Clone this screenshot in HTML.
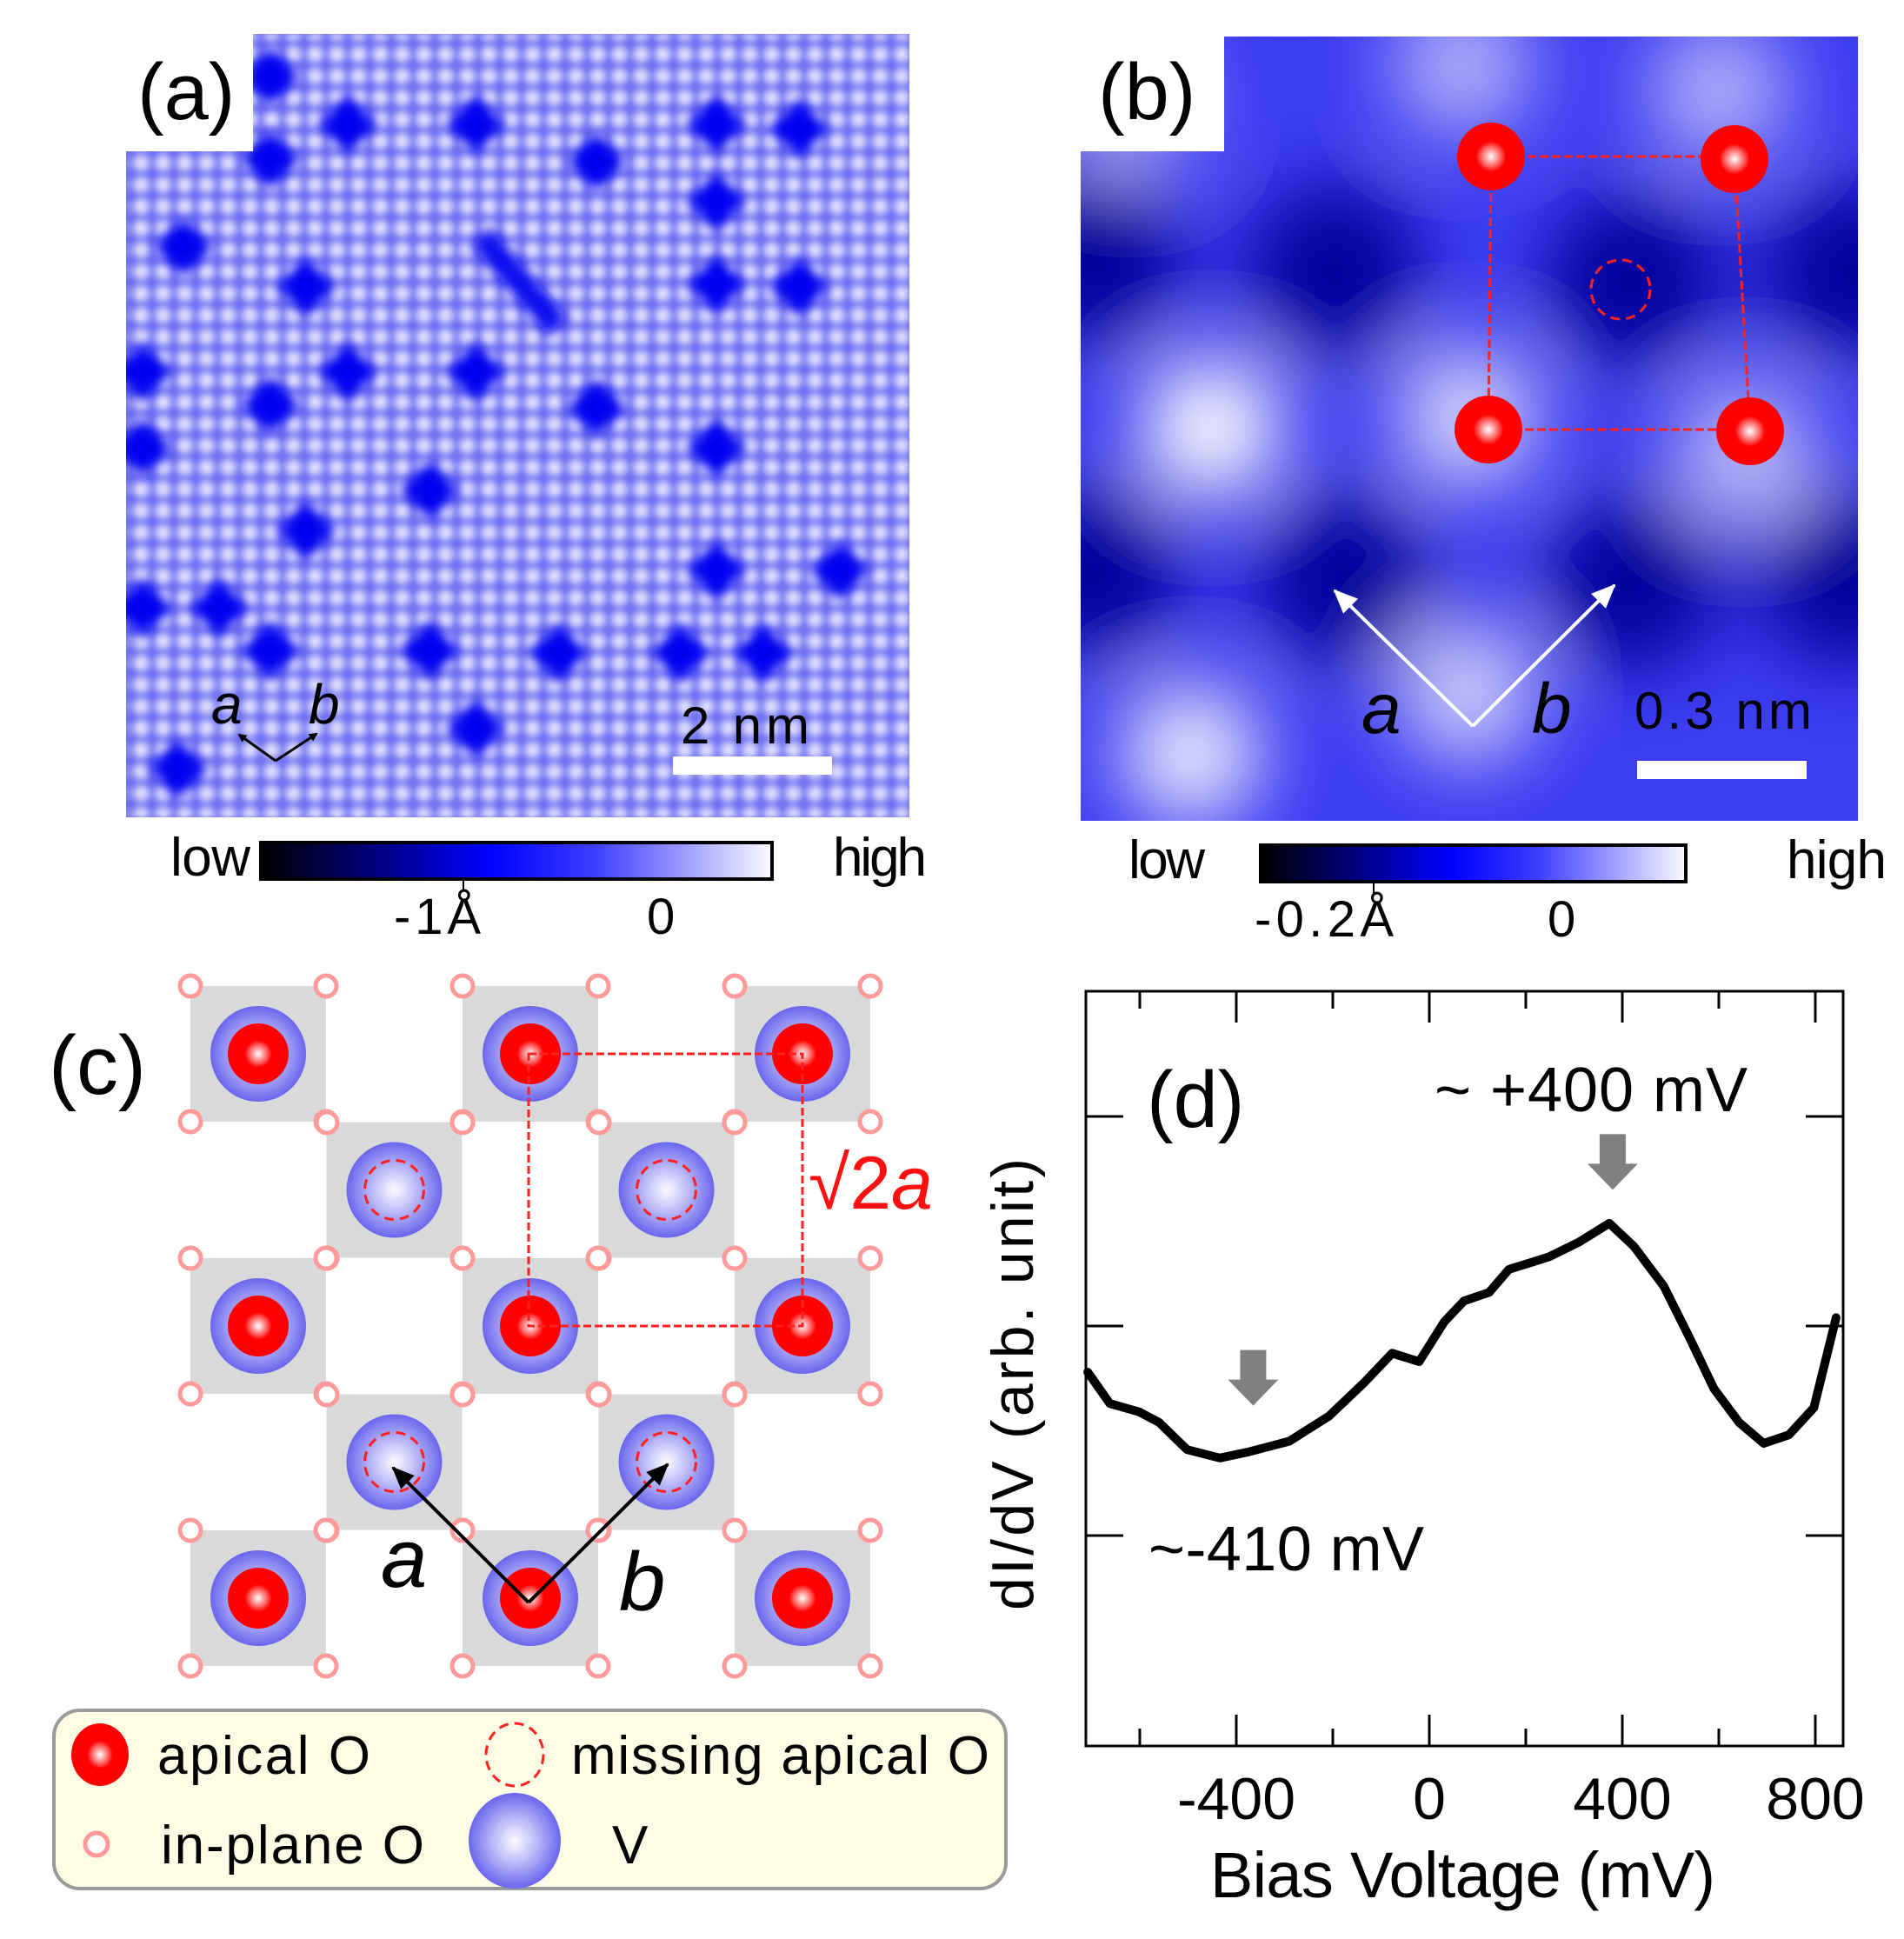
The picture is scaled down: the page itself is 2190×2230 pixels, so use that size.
<!DOCTYPE html>
<html><head><meta charset="utf-8"><style>
html,body{margin:0;padding:0;background:#fff}
svg{display:block}
text{font-family:"Liberation Sans",sans-serif}
</style></head><body>
<svg id="fig" width="2190" height="2230" viewBox="0 0 2190 2230" xmlns="http://www.w3.org/2000/svg">
<defs>
  <radialGradient id="dotg"><stop offset="0" stop-color="#f4f2ff"/><stop offset="0.5" stop-color="#d0cffb" stop-opacity="0.85"/><stop offset="1" stop-color="#c8c8fb" stop-opacity="0"/></radialGradient>
  <pattern id="lat" width="25" height="25" patternUnits="userSpaceOnUse"><circle cx="12.5" cy="12.5" r="14" fill="url(#dotg)"/></pattern>
  <filter id="blur8" filterUnits="userSpaceOnUse" x="100" y="0" width="1000" height="1000"><feGaussianBlur stdDeviation="7"/></filter>
  <filter id="blurLat" filterUnits="userSpaceOnUse" x="100" y="0" width="1000" height="1000"><feGaussianBlur stdDeviation="3"/></filter>
  <filter id="blur30" filterUnits="userSpaceOnUse" x="1000" y="-300" width="1400" height="1500"><feGaussianBlur stdDeviation="45"/></filter>
  <linearGradient id="cbar" x1="0" x2="1"><stop offset="0" stop-color="#000"/><stop offset="0.45" stop-color="#0000ff"/><stop offset="0.65" stop-color="#3c3cff"/><stop offset="1" stop-color="#fafaff"/></linearGradient>
  <radialGradient id="redball" cx="0.5" cy="0.5" r="0.5"><stop offset="0" stop-color="#fff"/><stop offset="0.3" stop-color="#ff5a5a"/><stop offset="0.45" stop-color="#ff0000"/><stop offset="1" stop-color="#ff0000"/></radialGradient>
  <radialGradient id="vball" cx="0.5" cy="0.5" r="0.5"><stop offset="0" stop-color="#fdfbff"/><stop offset="0.5" stop-color="#b7b5f7"/><stop offset="1" stop-color="#6a66ee"/></radialGradient>
  <clipPath id="clipA"><path d="M291,39H1046V940H145V174H291Z"/></clipPath>
  <clipPath id="clipB"><path d="M1408,42H2137V944H1243V174H1408Z"/></clipPath>
  <marker id="ahB" markerWidth="10" markerHeight="10" refX="8" refY="5" orient="auto" markerUnits="userSpaceOnUse"><path d="M0,0L10,5L0,10Z" fill="#000"/></marker>
  <marker id="ahBig" markerWidth="26" markerHeight="22" refX="24" refY="11" orient="auto" markerUnits="userSpaceOnUse"><path d="M0,0L26,11L0,22Z" fill="#000"/></marker>
  <marker id="ahW" markerWidth="28" markerHeight="24" refX="26" refY="12" orient="auto" markerUnits="userSpaceOnUse"><path d="M0,0L28,12L0,24Z" fill="#fff"/></marker>
</defs>

<!-- Panel A -->
<g clip-path="url(#clipA)">
  <rect x="145" y="39" width="901" height="901" fill="#6c6ef2"/>
  <rect x="145" y="39" width="901" height="901" fill="url(#lat)" filter="url(#blurLat)"/>
  <g id="darkA" filter="url(#blur8)"></g>
</g>
<text x="158" y="137" font-size="92">(a)</text>
<text x="243" y="832" font-size="64" font-style="italic">a</text>
<text x="355" y="832" font-size="64" font-style="italic">b</text>
<line x1="317" y1="875" x2="275" y2="845" stroke="#000" stroke-width="3" marker-end="url(#ahB)"/>
<line x1="317" y1="875" x2="364" y2="844" stroke="#000" stroke-width="3" marker-end="url(#ahB)"/>
<text x="783" y="855" font-size="60" textLength="148">2 nm</text>
<rect x="774" y="870" width="183" height="21" fill="#fff"/>

<!-- colorbar A -->
<g>
  <rect x="300" y="969" width="588" height="42" fill="url(#cbar)" stroke="#000" stroke-width="4"/>
  <line x1="533" y1="1011" x2="533" y2="1024" stroke="#000" stroke-width="2"/>
  <text x="196" y="1007" font-size="62" textLength="92">low</text>
  <text x="958" y="1007" font-size="62" textLength="108">high</text>
  <text x="453" y="1074" font-size="58" textLength="100">-1Å</text>
  <text x="744" y="1074" font-size="58">0</text>
</g>

<!-- Panel B -->
<g clip-path="url(#clipB)">
  <rect x="1243" y="42" width="894" height="902" fill="#3d3df2"/>
  <g id="blobsB" filter="url(#blur30)"></g>
</g>
<text x="1263" y="137" font-size="92">(b)</text>
<g>
  <path d="M1715,180H1995M1995,183L2013,496M1712,494H2013M1715,180L1712,494" stroke="#ff2020" stroke-width="3" stroke-dasharray="10,4" fill="none"/>
  <circle cx="1864" cy="333" r="34" fill="none" stroke="#ff2020" stroke-width="3" stroke-dasharray="11,7"/>
  <circle cx="1715" cy="180" r="39" fill="url(#redball)"/>
  <circle cx="1995" cy="183" r="39" fill="url(#redball)"/>
  <circle cx="1712" cy="494" r="39" fill="url(#redball)"/>
  <circle cx="2013" cy="496" r="39" fill="url(#redball)"/>
</g>
<line x1="1694" y1="835" x2="1535" y2="679" stroke="#fff" stroke-width="4" marker-end="url(#ahW)"/>
<line x1="1694" y1="835" x2="1857" y2="673" stroke="#fff" stroke-width="4" marker-end="url(#ahW)"/>
<text x="1566" y="843" font-size="82" font-style="italic">a</text>
<text x="1762" y="843" font-size="82" font-style="italic">b</text>
<text x="1880" y="838" font-size="60" textLength="204">0.3 nm</text>
<rect x="1883" y="875" width="195" height="21" fill="#fff"/>

<!-- colorbar B -->
<g>
  <rect x="1450" y="972" width="489" height="42" fill="url(#cbar)" stroke="#000" stroke-width="4"/>
  <line x1="1580" y1="1014" x2="1580" y2="1027" stroke="#000" stroke-width="2"/>
  <text x="1298" y="1010" font-size="62" textLength="88">low</text>
  <text x="2055" y="1010" font-size="62" textLength="115">high</text>
  <text x="1443" y="1077" font-size="58" textLength="160">-0.2Å</text>
  <text x="1780" y="1077" font-size="58">0</text>
</g>

<!-- Panel C -->
<g id="latticeC"></g>
<text x="56" y="1258" font-size="96">(c)</text>
<path d="M608,1212H923V1525H608Z" fill="none" stroke="#ff2020" stroke-width="3" stroke-dasharray="9,4"/>
<text x="930" y="1390" font-size="86" fill="#ff1010">√2<tspan font-style="italic">a</tspan></text>
<line x1="608" y1="1843" x2="452" y2="1688" stroke="#000" stroke-width="4" marker-end="url(#ahBig)"/>
<line x1="608" y1="1843" x2="768" y2="1684" stroke="#000" stroke-width="4" marker-end="url(#ahBig)"/>
<text x="438" y="1825" font-size="96" font-style="italic">a</text>
<text x="712" y="1852" font-size="96" font-style="italic">b</text>

<!-- Legend -->
<g>
  <rect x="62" y="1967" width="1095" height="205" rx="30" fill="#fdfde5" stroke="#9a9a9a" stroke-width="4"/>
  <g>
    <ellipse cx="115" cy="2018" rx="33" ry="36" fill="url(#redball)"/>
    <text x="181" y="2040" font-size="62" textLength="245">apical O</text>
  </g>
  <g>
    <ellipse cx="592" cy="2018" rx="33" ry="36" fill="none" stroke="#ff2020" stroke-width="3" stroke-dasharray="11,7"/>
    <text x="657" y="2040" font-size="62" textLength="481">missing apical O</text>
  </g>
  <g>
    <circle cx="111" cy="2121" r="13" fill="#fff" stroke="#f99" stroke-width="5"/>
    <text x="185" y="2143" font-size="62" textLength="303">in-plane O</text>
  </g>
  <g>
    <ellipse cx="592" cy="2117" rx="53" ry="55" fill="url(#vball)"/>
    <text x="704" y="2143" font-size="62">V</text>
  </g>
</g>

<!-- Panel D -->
<g id="plotD"></g>
</svg>
<script>
const NS='http://www.w3.org/2000/svg';
function mk(parent,tag,attrs){const e=document.createElementNS(NS,tag);for(const k in attrs)e.setAttribute(k,attrs[k]);parent.appendChild(e);return e;}

// ---------- Panel A dark defects ----------
const defectAX=[311,400,547,311,686,824,919,824,211,352,824,919,164,400,547,311,686,164,824,494,352,824,966,252,164,311,494,642,783,878,547,205];
const defectAY=[88,143,143,183,186,143,148,232,284,330,327,330,428,428,428,466,469,515,515,564,610,656,656,699,699,748,748,751,751,751,838,884];
const gA=document.getElementById('darkA');
for(let i=0;i<defectAX.length;i++){
  const r=mk(gA,'rect',{x:defectAX[i]-24,y:defectAY[i]-24,width:48,height:48,fill:'#0000f0',transform:`rotate(45 ${defectAX[i]} ${defectAY[i]})`});
  
  
}
const ln=mk(gA,'line',{x1:553,y1:272,x2:642,y2:376,stroke:'#0a0af0','stroke-width':30});



// ---------- Panel B blobs ----------
const darkBX=[1535,1877,2131,1258,1547,1877,2125,1258];
const darkBY=[313,324,313,301,665,670,665,659];
const lightBX=[1393,1370,1688,1688,2007,1682,1977,1300];
const lightBY=[492,867,797,480,520,76,105,120];
const lightBA=[1,0.9,0.75,0.8,0.65,0.6,0.6,0.5];
const gB=document.getElementById('blobsB');
for(let i=0;i<darkBX.length;i++){
  const c=mk(gB,'circle',{cx:darkBX[i],cy:darkBY[i],r:100,fill:'#00009a'});
  
  
}
for(let i=0;i<lightBX.length;i++){
  const c=mk(gB,'circle',{cx:lightBX[i],cy:lightBY[i],r:80,fill:'#ffffff','fill-opacity':lightBA[i]});
  
  
}

// ---------- Panel C lattice ----------
const gC=document.getElementById('latticeC');
const cx0=297, cy0=1212, st=156.5, half=78;
const sites=[];
for(let j=0;j<5;j++){
  if(j%2===0){for(let i=0;i<3;i++)sites.push([cx0+2*i*st,cy0+j*st,'full']);}
  else{for(let i=0;i<2;i++)sites.push([cx0+(2*i+1)*st,cy0+j*st,'missing']);}
}
sites.forEach(s=>{
  const sq=mk(gC,'rect',{x:s[0]-half,y:s[1]-half,width:2*half,height:2*half,fill:'#d9d9d9'});
  
  
});
const corners=new Set();
sites.forEach(s=>{[[-1,-1],[1,-1],[-1,1],[1,1]].forEach(d=>corners.add((s[0]+d[0]*half).toFixed(0)+','+(s[1]+d[1]*half).toFixed(0)));});
corners.forEach(k=>{
  const p=k.split(',');
  const c=mk(gC,'circle',{cx:p[0],cy:p[1],r:12,fill:'#fff',stroke:'#ff9a9a','stroke-width':5});
  
  
});
sites.forEach(s=>{
  const v=mk(gC,'circle',{cx:s[0],cy:s[1],r:55,fill:'url(#vball)'});
  
  
  if(s[2]==='full'){
    const o=mk(gC,'circle',{cx:s[0],cy:s[1],r:35,fill:'url(#redball)'});
    
    
  }else{
    const o=mk(gC,'circle',{cx:s[0],cy:s[1],r:34,fill:'none',stroke:'#ff2020','stroke-width':3,'stroke-dasharray':'11,7'});
    
    
  }
});

// ---------- Panel D chart ----------
const biasMV=[-708,-662,-601,-560,-502,-434,-373,-290,-208,-135,-77,-21,31,72,124,165,248,310,373,424,486,538,590,642,693,745,797,843];
const dIdV=[1.78,1.63,1.59,1.54,1.41,1.37,1.40,1.45,1.57,1.73,1.87,1.83,2.02,2.12,2.16,2.27,2.33,2.40,2.49,2.38,2.19,1.95,1.70,1.54,1.44,1.48,1.61,2.04];
const xMajorTicks=[-400,0,400,800];
const xMinorTicks=[-600,-200,200,600];
const yTicks=[1,2,3];
const arrowMV=[-365,380];
const arrowVal=[1.62,2.65];

const L=1249,R=2120,T=1140,B=2008;
const X=v=>1644+(v-0)*(1866-1644)/400;
const Y=v=>1766-(v-1)*(1766-1525);
const gD=document.getElementById('plotD');
const fr=mk(gD,'rect',{x:L,y:T,width:R-L,height:B-T,fill:'none',stroke:'#000','stroke-width':3});


xMajorTicks.forEach(v=>{
  const t1=mk(gD,'line',{x1:X(v),y1:B,x2:X(v),y2:B-36,stroke:'#000','stroke-width':3});
  
  
  const t2=mk(gD,'line',{x1:X(v),y1:T,x2:X(v),y2:T+36,stroke:'#000','stroke-width':3});
  
  
  const lb=mk(gD,'text',{x:X(v),y:2092,'font-size':68,'text-anchor':'middle'});
  lb.textContent=String(v);
  
  
});
xMinorTicks.forEach(v=>{
  const t1=mk(gD,'line',{x1:X(v),y1:B,x2:X(v),y2:B-20,stroke:'#000','stroke-width':3});
  
  
  const t2=mk(gD,'line',{x1:X(v),y1:T,x2:X(v),y2:T+20,stroke:'#000','stroke-width':3});
  
  
});
yTicks.forEach(v=>{
  const t1=mk(gD,'line',{x1:L,y1:Y(v),x2:L+43,y2:Y(v),stroke:'#000','stroke-width':3});
  
  
  const t2=mk(gD,'line',{x1:R,y1:Y(v),x2:R-43,y2:Y(v),stroke:'#000','stroke-width':3});
  
  
});
let d='';
biasMV.forEach((v,i)=>{d+=(i?'L':'M')+X(v).toFixed(1)+','+Y(dIdV[i]).toFixed(1);});
const curve=mk(gD,'path',{d:d,fill:'none',stroke:'#000','stroke-width':10,'stroke-linejoin':'round','stroke-linecap':'round'});


arrowMV.forEach((v,i)=>{
  const cx=X(v), tip=Y(arrowVal[i]);
  const a=mk(gD,'path',{d:`M${cx-15},${tip-64}H${cx+15}V${tip-30}H${cx+29}L${cx},${tip}L${cx-29},${tip-30}H${cx-15}Z`,fill:'#808080'});
  
  
});
function txt(x,y,s,fs,name,extra){const t=mk(gD,'text',Object.assign({x:x,y:y,'font-size':fs},extra||{}));t.textContent=s;return t;}
txt(1319,1296,'(d)',92,'panel-d-label');
txt(1650,1278,'~ +400 mV',72,'peak-label-plus400',{textLength:360});
txt(1321,1806,'~-410 mV',72,'peak-label-minus410',{textLength:317});
txt(1392,2182,'Bias Voltage (mV)',74,'x-axis-title',{textLength:581});
const yt=mk(gD,'text',{x:0,y:0,'font-size':68,'text-anchor':'middle',transform:'translate(1188,1592) rotate(-90)',textLength:520});
yt.innerHTML='dI/dV (arb. unit)';


</script>
</body></html>
